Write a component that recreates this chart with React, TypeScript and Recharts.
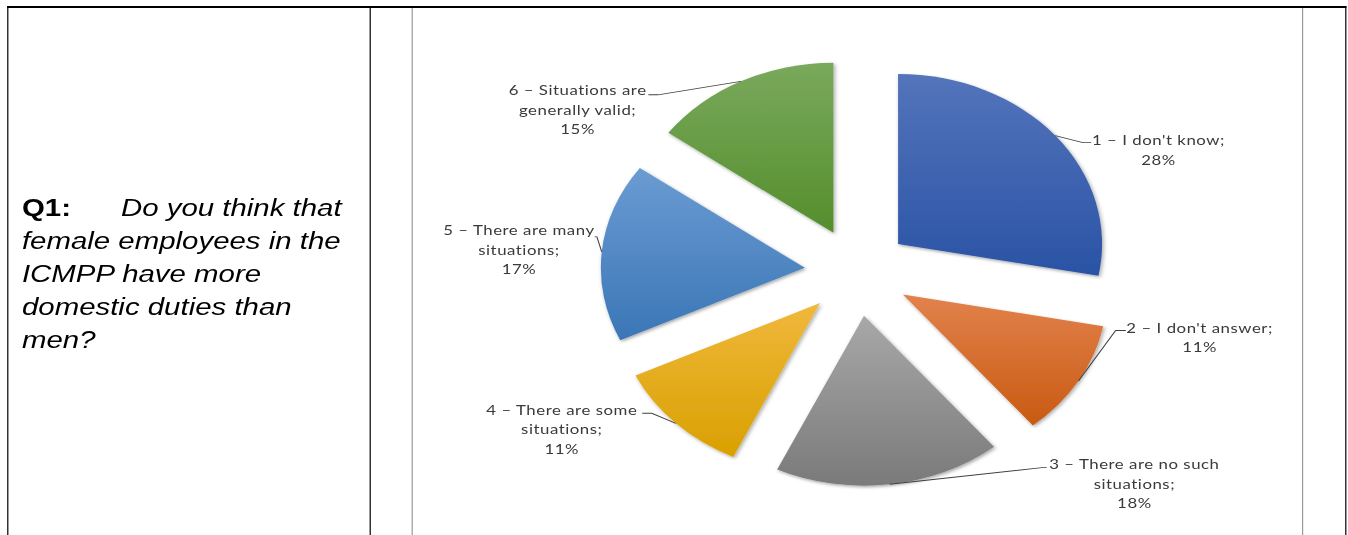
import React from "react";
import { PieChart, Pie, Cell, Sector } from "recharts";

const categories = [
  "1 – I don't know",
  "2 – I don't answer",
  "3 – There are no such\nsituations",
  "4 – There are some\nsituations",
  "5 – There are many\nsituations",
  "6 – Situations are\ngenerally valid",
];
const shares = [28, 11, 18, 11, 17, 15];

const questionLabel = "Q1:";
const questionLines = [
  "Do you think that",
  "female employees in the",
  "ICMPP have more",
  "domestic duties than",
  "men?",
];

const data = categories.map((name, i) => ({ name, value: shares[i] }));

// top -> bottom gradient for each slice
const sliceColors = [
  ["#5474bb", "#2a53a5"],
  ["#e2824c", "#c85a12"],
  ["#a8a8a8", "#7a7a7a"],
  ["#f0b83c", "#d9a000"],
  ["#6b9bd2", "#3a76b6"],
  ["#79a95c", "#558e2c"],
];

const STRETCH = 1.2; // the original page is stretched horizontally
const EXPLODE = 44;
const RAD = Math.PI / 180;

// leader elbow / leader end / text centre, relative to the arc midpoint
const labelNudge = [
  { elbow: [23, 7], end: [30, 7], text: [86, 4] },
  { elbow: [31, -50.5], end: [39.5, -50.5], text: [101, -53.5] },
  { elbow: [127, -16.7], end: [131, -16.7], text: [204, -20.7] },
  { elbow: [-20, -10], end: [-28, -10], text: [-95, -14] },
  { elbow: [-4, -15], end: [-6, -15], text: [-69, -22] },
  { elbow: [-69, 13.5], end: [-77, 13.5], text: [-136, 8.5] },
];

const ExplodedSector = (props: any) => {
  const mid = ((props.startAngle + props.endAngle) / 2) * RAD;
  const dx = EXPLODE * Math.cos(mid);
  const dy = -EXPLODE * Math.sin(mid);
  return (
    <g transform={`translate(${dx},${dy})`} filter="url(#sliceShadow)">
      <Sector {...props} stroke="none" />
    </g>
  );
};

const renderLabel = (props: any) => {
  const { cx, cy, midAngle, outerRadius, index, value, name } = props;
  const a = midAngle * RAD;
  const mx = cx + (outerRadius + EXPLODE) * Math.cos(a);
  const my = cy - (outerRadius + EXPLODE) * Math.sin(a);
  const n = labelNudge[index];
  const lines = String(name).split("\n");
  lines[lines.length - 1] += ";";
  lines.push(`${value}%`);
  const tx = mx + n.text[0];
  const ty = my + n.text[1];
  return (
    <g key={`lbl-${index}`}>
      <polyline
        points={`${mx},${my} ${mx + n.elbow[0]},${my + n.elbow[1]} ${mx + n.end[0]},${my + n.end[1]}`}
        fill="none"
        stroke="#404040"
        strokeWidth={0.9}
      />
      <text
        x={tx}
        y={ty}
        textAnchor="middle"
        fontFamily="Lato, 'Open Sans', sans-serif"
        fontSize={14}
        letterSpacing={0.45}
        fill="#3a3a3a"
      >
        {lines.map((l, i) => (
          <tspan key={i} x={tx} y={ty + i * 19.5} dominantBaseline="central">
            {l}
          </tspan>
        ))}
      </text>
    </g>
  );
};

export default function App() {
  return (
    <div
      style={{
        position: "absolute",
        left: 0,
        top: 0,
        width: 1348 / STRETCH,
        height: 535,
        overflow: "hidden",
        transform: `scaleX(${STRETCH})`,
        transformOrigin: "0 0",
        background: "#fff",
      }}
    >
      {/* table frame */}
      <div
        style={{
          position: "absolute",
          left: 5.8,
          top: 6,
          width: 1115.9,
          height: 540,
          borderTop: "2px solid #000",
          borderLeft: "1.6px solid #000",
          borderRight: "1.6px solid #000",
          boxSizing: "border-box",
        }}
      />
      <div style={{ position: "absolute", left: 307.5, top: 6, width: 1.6, height: 540, background: "#000" }} />

      {/* question cell */}
      <div
        style={{
          position: "absolute",
          left: 18.3,
          top: 191,
          width: 285,
          fontFamily: "'Liberation Sans', Arial, sans-serif",
          fontSize: 24.5,
          lineHeight: "33px",
          color: "#000",
          whiteSpace: "nowrap",
        }}
      >
        {questionLines.map((l, i) => (
          <div key={i}>
            {i === 0 && (
              <span style={{ display: "inline-block", width: 82.5, fontWeight: "bold" }}>{questionLabel}</span>
            )}
            <span style={{ fontStyle: "italic" }}>{l}</span>
          </div>
        ))}
      </div>

      {/* chart frame */}
      <div
        style={{
          position: "absolute",
          left: 342.5,
          top: 8,
          width: 743.5,
          height: 540,
          borderLeft: "1px solid #9a9a9a",
          borderRight: "1px solid #9a9a9a",
          boxSizing: "border-box",
        }}
      />
      <div style={{ position: "absolute", left: 342.5, top: 0 }}>
        <PieChart width={744} height={535} margin={{ top: 0, right: 0, bottom: 0, left: 0 }}>
          <defs>
            {sliceColors.map((c, i) => (
              <linearGradient key={i} id={`slice${i}`} x1="0" y1="0" x2="0" y2="1">
                <stop offset="0%" stopColor={c[0]} />
                <stop offset="100%" stopColor={c[1]} />
              </linearGradient>
            ))}
            <filter id="sliceShadow" x="-20%" y="-20%" width="140%" height="140%">
              <feDropShadow dx={1.2} dy={1.5} stdDeviation={1.6} floodColor="#000" floodOpacity={0.35} />
            </filter>
          </defs>
          <Pie
            data={data}
            dataKey="value"
            nameKey="name"
            cx={371.5}
            cy={272}
            outerRadius={170}
            startAngle={90}
            endAngle={-270}
            stroke="none"
            shape={ExplodedSector}
            label={renderLabel}
            labelLine={false}
            isAnimationActive={false}
          >
            {data.map((_, i) => (
              <Cell key={i} fill={`url(#slice${i})`} />
            ))}
          </Pie>
        </PieChart>
      </div>
    </div>
  );
}
